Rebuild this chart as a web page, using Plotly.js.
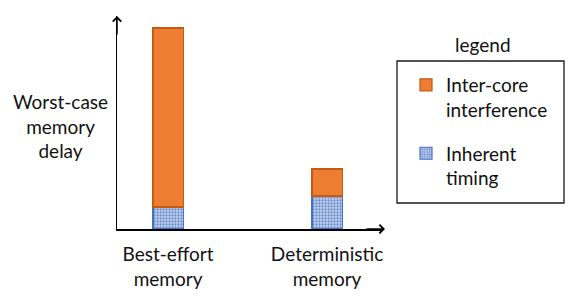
<!DOCTYPE html>
<html>
<head>
<meta charset="utf-8">
<script src="https://cdn.plot.ly/plotly-3.0.1.min.js"></script>
<style>html,body{margin:0;padding:0;background:#fff;}#chart{width:582px;height:297px;}</style>
</head>
<body>
<div id="chart"></div>
<script>
const categories = ["Best-effort<br>memory", "Deterministic<br>memory"];
const inherentTiming = [1.1, 1.65];
const interCoreInterference = [8.95, 1.35];
const seriesNames = ["Inherent<br>timing", "Inter-core<br>interference"];
const yTitle = "Worst-case<br>memory<br>delay";
const legendTitle = "legend";

const FONT = "Lato, 'Open Sans', sans-serif";
const xIdx = categories.map((c, i) => i);

// plot area in pixels: left 117, right 383, top 16, bottom 229
const PL = 117, PR = 383, PT = 16, PB = 229;
const px = v => (v - PL) / (PR - PL);
const py = v => (PB - v) / (PB - PT);

const traces = [
  {
    type: "bar", x: xIdx, y: inherentTiming, name: seriesNames[0],
    width: 0.19, legendgroup: "b", legendrank: 2,
    marker: {
      color: "#b4c7e7",
      line: {color: "#4472c4", width: 1.2},
      pattern: {shape: ".", fgcolor: "#6a8bcc", bgcolor: "#c6d5ef", size: 3, solidity: 0.45, fillmode: "replace"}
    },
    hoverinfo: "skip"
  },
  {
    type: "bar", x: xIdx, y: interCoreInterference, name: seriesNames[1],
    width: 0.19, legendgroup: "a", legendrank: 1,
    marker: {color: "#ed7d31", line: {color: "#c55a11", width: 1.2}},
    hoverinfo: "skip"
  }
];

const layout = {
  width: 582, height: 297,
  margin: {l: PL, r: 582 - PR, t: PT, b: 297 - PB},
  paper_bgcolor: "#fff", plot_bgcolor: "#fff",
  barmode: "stack",
  font: {family: FONT, size: 19, color: "#111"},
  showlegend: true,
  legend: {
    x: 406/582, xanchor: "left", y: 1 - 66/297, yanchor: "top", xref: "container", yref: "container",
    borderwidth: 0, bgcolor: "rgba(0,0,0,0)",
    font: {family: FONT, size: 19, color: "#111"},
    traceorder: "grouped", tracegroupgap: 16, itemwidth: 30, valign: "top",
    itemclick: false, itemdoubleclick: false
  },
  xaxis: {
    range: [-0.321, 1.352], tickvals: xIdx, ticktext: categories,
    showline: true, linecolor: "#000", linewidth: 1.5, showgrid: false, zeroline: false,
    ticks: "", ticklabelstandoff: 8, tickfont: {family: FONT, size: 19, color: "#111"}, fixedrange: true
  },
  yaxis: {
    range: [0, 10.65], showline: true, linecolor: "#000", linewidth: 1.5,
    showgrid: false, zeroline: false, showticklabels: false, ticks: "", fixedrange: true
  },
  shapes: [
    {type: "rect", xref: "paper", yref: "paper", x0: px(397), x1: px(564), y0: py(61), y1: py(203),
     line: {color: "#1a1a1a", width: 1.3}, fillcolor: "rgba(0,0,0,0)"}
  ],
  annotations: [
    {xref: "paper", yref: "paper", x: px(385), y: 0, ax: -20, ay: 0, axref: "pixel", ayref: "pixel",
     showarrow: true, arrowhead: 4, arrowsize: 1.1, arrowwidth: 1.5, arrowcolor: "#000", text: ""},
    {xref: "paper", yref: "paper", x: 0, y: 1.0, ax: 0, ay: 20, axref: "pixel", ayref: "pixel",
     showarrow: true, arrowhead: 4, arrowsize: 1.1, arrowwidth: 1.5, arrowcolor: "#000", text: ""},
    {xref: "paper", yref: "paper", x: px(60), y: py(126), xanchor: "center", yanchor: "middle",
     showarrow: false, text: yTitle, align: "center", font: {family: FONT, size: 19, color: "#111"}},
    {xref: "paper", yref: "paper", x: px(483), y: py(45), xanchor: "center", yanchor: "middle",
     showarrow: false, text: legendTitle, font: {family: FONT, size: 19, color: "#111"}}
  ]
};

Plotly.newPlot("chart", traces, layout, {displayModeBar: false, staticPlot: true});
</script>
</body>
</html>
